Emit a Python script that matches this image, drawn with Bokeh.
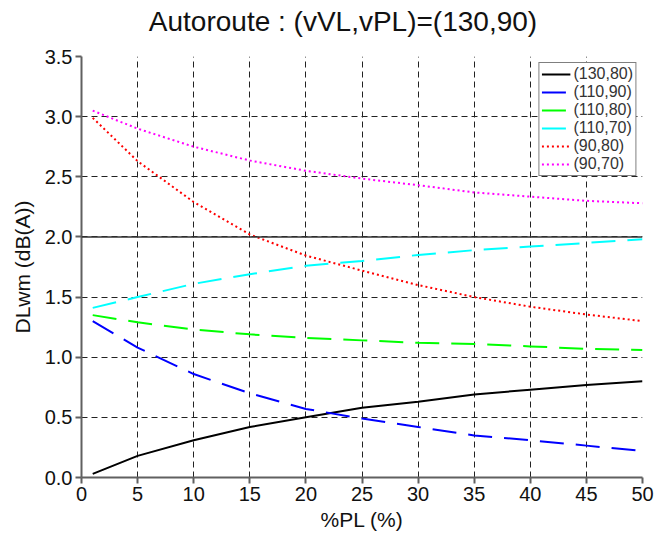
from bokeh.plotting import figure
from bokeh.models import Span, Legend, LegendItem, FixedTicker, Range1d, CustomJSTickFormatter, Div
from bokeh.layouts import column
from bokeh.embed import file_html
from bokeh.resources import INLINE

x = [1, 5, 10, 15, 20, 25, 30, 35, 40, 45, 50]
s_130_80 = [0.03, 0.18, 0.31, 0.42, 0.50, 0.58, 0.63, 0.69, 0.73, 0.77, 0.80]
s_110_90 = [1.30, 1.08, 0.86, 0.70, 0.57, 0.49, 0.42, 0.35, 0.31, 0.265, 0.22]
s_110_80 = [1.35, 1.29, 1.23, 1.19, 1.16, 1.14, 1.12, 1.11, 1.09, 1.07, 1.06]
s_110_70 = [1.41, 1.50, 1.61, 1.69, 1.76, 1.80, 1.85, 1.89, 1.92, 1.95, 1.98]
s_90_80 = [2.99, 2.63, 2.29, 2.02, 1.845, 1.72, 1.60, 1.50, 1.42, 1.355, 1.30]
s_90_70 = [3.05, 2.90, 2.75, 2.635, 2.55, 2.485, 2.43, 2.37, 2.335, 2.30, 2.28]

x_ticks = [0, 5, 10, 15, 20, 25, 30, 35, 40, 45, 50]
y_ticks = [0, 0.5, 1.0, 1.5, 2.0, 2.5, 3.0, 3.5]
title_text = "Autoroute : (vVL,vPL)=(130,90)"

series = [
    ("(130,80)", s_130_80, "black", "solid"),
    ("(110,90)", s_110_90, "blue", "24 12"),
    ("(110,80)", s_110_80, "#00ff00", "24 12"),
    ("(110,70)", s_110_70, "cyan", "24 12"),
    ("(90,80)", s_90_80, "red", "2 3"),
    ("(90,70)", s_90_70, "magenta", "2 3"),
]

FONT = "Liberation Sans"

title_div = Div(text=title_text, width=656, height=44,
                styles={"text-align": "center", "text-indent": "30px", "font-family": FONT,
                        "font-size": "28px", "line-height": "44px", "color": "#111111",
                        "width": "656px", "margin": "0", "padding": "0"})

p = figure(width=656, height=493, output_backend="svg", toolbar_location=None,
           x_range=Range1d(x_ticks[0], x_ticks[-1]), y_range=Range1d(y_ticks[0], y_ticks[-1]),
           min_border_left=81, min_border_right=14, min_border_top=12, min_border_bottom=60,
           outline_line_color=None)

p.xaxis.ticker = FixedTicker(ticks=x_ticks)
p.yaxis.ticker = FixedTicker(ticks=y_ticks)
p.yaxis.formatter = CustomJSTickFormatter(code="return tick.toFixed(1);")

for ax in (p.xaxis, p.yaxis):
    ax.axis_line_color = "#606060"
    ax.axis_line_width = 2
    ax.major_tick_line_color = "#606060"
    ax.major_tick_line_width = 2
    ax.major_tick_out = 6
    ax.major_tick_in = 0
    ax.minor_tick_line_color = None
    ax.major_label_text_font = FONT
    ax.major_label_text_font_size = "20px"
    ax.major_label_text_color = "#111111"
    ax.axis_label_text_font = FONT
    ax.axis_label_text_font_size = "21px"
    ax.axis_label_text_font_style = "normal"
    ax.axis_label_text_color = "#111111"

p.xaxis.axis_label = "%PL (%)"
p.yaxis.axis_label = "DLwm (dB(A))"
p.xaxis.major_label_standoff = 3
p.yaxis.major_label_standoff = 3
p.xaxis.axis_label_standoff = 4
p.yaxis.axis_label_standoff = 8

p.xgrid.grid_line_color = "#222222"
p.xgrid.grid_line_dash = "6 4"
p.xgrid.grid_line_width = 1
p.ygrid.grid_line_color = "#222222"
p.ygrid.grid_line_dash = "6 4"
p.ygrid.grid_line_width = 1

p.add_layout(Span(location=2.0, dimension="width", line_color="#333333", line_width=1.5))

items = []
for label, ys, color, dash in series:
    r = p.line(x, ys, line_color=color, line_width=2, line_dash=dash)
    items.append(LegendItem(label=label, renderers=[r]))

legend = Legend(items=items, location="top_right")
legend.label_text_font = FONT
legend.label_text_font_size = "16px"
legend.label_text_color = "#333333"
legend.label_height = 14
legend.glyph_height = 14
legend.glyph_width = 29
legend.spacing = 0
legend.padding = 2
legend.margin = 6
legend.label_standoff = 3
legend.border_line_color = "black"
legend.border_line_width = 1
legend.background_fill_alpha = 1
p.add_layout(legend)

layout = column(title_div, p, spacing=0)
open("out.html", "w").write(file_html(layout, INLINE))
